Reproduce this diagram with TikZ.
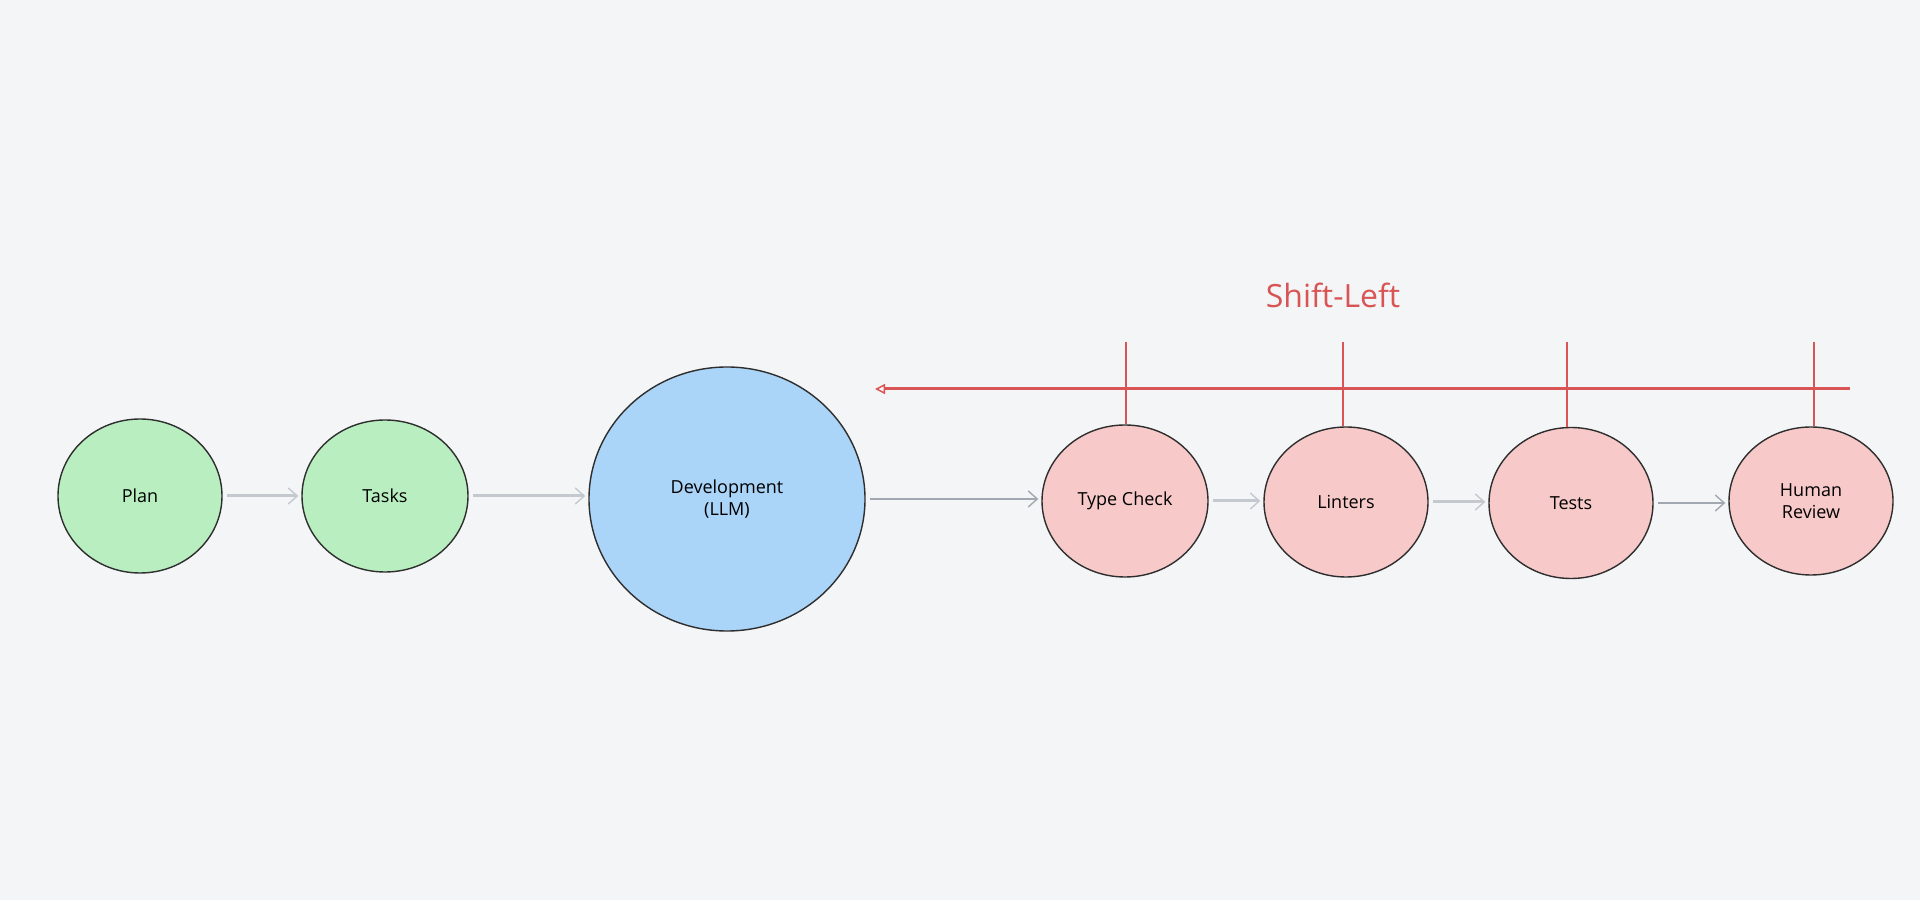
\documentclass[tikz,border=0pt]{standalone}
\usepackage{fontspec}
\setmainfont{Open Sans}
\usetikzlibrary{shapes.geometric,arrows.meta}
\definecolor{bg}{HTML}{F4F5F7}
\definecolor{gfill}{HTML}{B9EFC0}
\definecolor{bfill}{HTML}{AAD4F8}
\definecolor{pfill}{HTML}{F7C9C9}
\definecolor{stroke}{HTML}{2E2E2E}
\definecolor{redl}{HTML}{D95555}
\definecolor{arrg}{HTML}{C3C9CF}
\definecolor{arrd}{HTML}{A2A8B0}
\tikzset{
  stage/.style={ellipse, draw=stroke, line width=1.4pt, inner sep=0pt, align=center,
    font=\fontsize{18}{22}\selectfont, text=black},
  green/.style={stage, fill=gfill},
  blue/.style={stage, fill=bfill},
  pink/.style={stage, fill=pfill},
  flow/.style={draw=arrg, line width=3pt, -{Straight Barb[length=9pt,width=16pt,line width=1.4pt]}, shorten >=3pt, shorten <=4pt},
  flowdark/.style={flow, draw=arrd, line width=2.2pt},
  tick/.style={draw=redl, line width=1.6pt},
  shiftline/.style={draw=redl, line width=3pt, -{Triangle[open, length=10pt, width=10pt, line width=1.5pt]}},
}
\begin{document}
\begin{tikzpicture}[x=1pt,y=1pt]
\fill[bg] (0,0) rectangle (1920,900);
\useasboundingbox (0,0) rectangle (1920,900);

\node[green, minimum width=164, minimum height=154] (plan) at (140,404) {Plan};
\node[green, minimum width=166, minimum height=152] (tasks) at (385,404) {Tasks};
\node[blue, minimum width=276, minimum height=264] (dev) at (727,401) {Development\\(LLM)};
\node[pink, minimum width=166, minimum height=152] (tc) at (1125,399) {Type Check};
\node[pink, minimum width=164, minimum height=150] (lint) at (1346,398) {Linters};
\node[pink, minimum width=164, minimum height=151] (tests) at (1571,397) {Tests};
\node[pink, minimum width=164, minimum height=148] (human) at (1811,399) {Human\\Review};

\draw[flow] (plan.east) -- (plan.east -| tasks.west);
\draw[flow] (tasks.east) -- (tasks.east -| dev.west);
\draw[flowdark] (dev.east) -- (dev.east -| tc.west);
\draw[flow] (tc.east) -- (tc.east -| lint.west);
\draw[flow] (lint.east) -- (lint.east -| tests.west);
\draw[flowdark] (tests.east) -- (tests.east -| human.west);

\coordinate (sr) at (1850,511);
\coordinate (sl) at (875,511);
\draw[shiftline] (sr) -- (sl);

\coordinate (t1) at (1126,558);
\coordinate (t2) at (1343,558);
\coordinate (t3) at (1567,558);
\coordinate (t4) at (1814,558);
\draw[tick] (t1) -- (t1 |- tc.north);
\draw[tick] (t2) -- (t2 |- lint.north);
\draw[tick] (t3) -- (t3 |- tests.north);
\draw[tick] (t4) -- (t4 |- human.north);

\node[text=redl, font=\fontsize{32}{36}\selectfont] (title) at (1333,605) {Shift-Left};
\end{tikzpicture}
\end{document}
